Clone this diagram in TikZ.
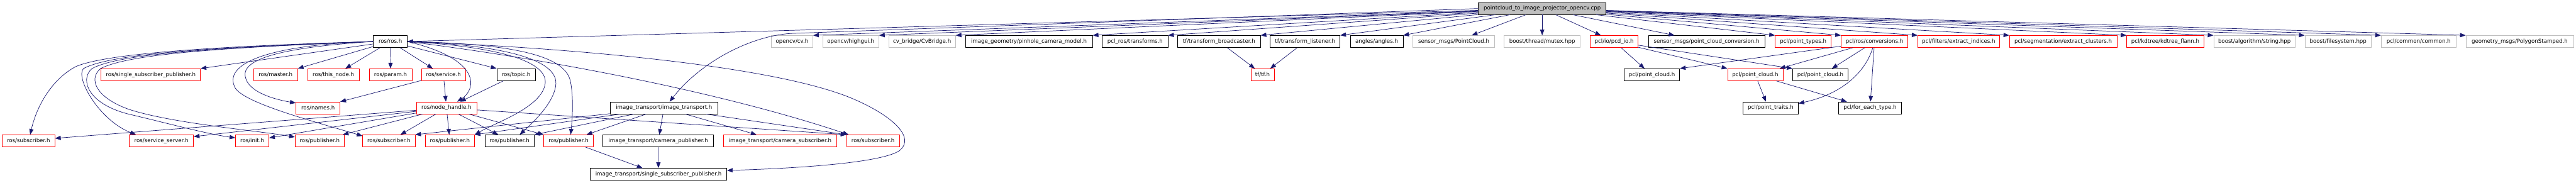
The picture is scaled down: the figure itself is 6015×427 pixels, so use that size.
\documentclass[tikz,border=0pt]{standalone}
\usepackage{fontspec}
\setmainfont{DejaVu Sans}
\usetikzlibrary{arrows.meta,calc}
\definecolor{edgeblue}{HTML}{191970}
\definecolor{lgray}{HTML}{BFBFBF}
\begin{document}
\begin{tikzpicture}[x=0.75pt,y=-0.75pt,
 box/.style={rectangle,draw,line width=0.75pt,fill=white,inner sep=0pt,minimum height=21pt,font=\fontsize{9.5}{11}\selectfont,text=black},
 blackbox/.style={box,draw=black},
 redbox/.style={box,draw=red},
 graybox/.style={box,draw=lgray},
 rootbox/.style={box,draw=black,fill=lgray},
 edge/.style={draw=edgeblue,line width=0.8pt,-{Triangle[length=10pt,width=7.5pt]}}]
\useasboundingbox (0,0) rectangle (6015,427);
% root
\node[rootbox,minimum width=223.5pt] (root) at (3601,20) {pointcloud\_to\_image\_projector\_opencv.cpp};
% row 1
\node[blackbox,minimum width=59.25pt] (ros) at (911.5,97) {ros/ros.h};
\node[graybox,minimum width=72.75pt] (cv) at (1849.5,97) {opencv/cv.h};
\node[graybox,minimum width=98.25pt] (highgui) at (1986.5,97) {opencv/highgui.h};
\node[graybox,minimum width=117pt] (cvbridge) at (2153,97) {cv\_bridge/CvBridge.h};
\node[blackbox,minimum width=222.75pt] (pinhole) at (2402.5,97) {image\_geometry/pinhole\_camera\_model.h};
\node[blackbox,minimum width=114.75pt] (pclros) at (2650.5,97) {pcl\_ros/transforms.h};
\node[blackbox,minimum width=144.75pt] (tfb) at (2846.5,97) {tf/transform\_broadcaster.h};
\node[blackbox,minimum width=122.25pt] (tfl) at (3047.5,97) {tf/transform\_listener.h};
\node[blackbox,minimum width=92.25pt] (angles) at (3214.5,97) {angles/angles.h};
\node[graybox,minimum width=143.25pt] (spc) at (3394.5,97) {sensor\_msgs/PointCloud.h};
\node[graybox,minimum width=133.5pt] (mutex) at (3601,97) {boost/thread/mutex.hpp};
\node[redbox,minimum width=84pt] (pcdio) at (3769,97) {pcl/io/pcd\_io.h};
\node[blackbox,minimum width=204pt] (ptconv) at (3985,97) {sensor\_msgs/point\_cloud\_conversion.h};
\node[redbox,minimum width=98.25pt] (ptypes) at (4210.5,97) {pcl/point\_types.h};
\node[redbox,minimum width=117pt] (conv) at (4377,97) {pcl/ros/conversions.h};
\node[redbox,minimum width=143.25pt] (extidx) at (4573.5,97) {pcl/filters/extract\_indices.h};
\node[redbox,minimum width=188.25pt] (extcl) at (4817.5,97) {pcl/segmentation/extract\_clusters.h};
\node[redbox,minimum width=135pt] (kdtree) at (5056,97) {pcl/kdtree/kdtree\_flann.h};
\node[graybox,minimum width=142.5pt] (bstr) at (5264,97) {boost/algorithm/string.hpp};
\node[graybox,minimum width=116.25pt] (bfs) at (5459.5,97) {boost/filesystem.hpp};
\node[graybox,minimum width=131.25pt] (pcommon) at (5647.5,97) {pcl/common/common.h};
\node[graybox,minimum width=188.25pt] (geom) at (5883.5,97) {geometry\_msgs/PolygonStamped.h};
% row 2
\node[redbox,minimum width=174pt] (ssp) at (352,174.5) {ros/single\_subscriber\_publisher.h};
\node[redbox,minimum width=77.25pt] (master) at (643.5,174.5) {ros/master.h};
\node[redbox,minimum width=90.75pt] (thisnode) at (778.5,174.5) {ros/this\_node.h};
\node[redbox,minimum width=75pt] (param) at (912,174.5) {ros/param.h};
\node[redbox,minimum width=77.25pt] (service) at (1035.5,174.5) {ros/service.h};
\node[blackbox,minimum width=67.5pt] (topic) at (1205,174.5) {ros/topic.h};
\node[redbox,minimum width=40.5pt] (tf) at (2948,174.5) {tf/tf.h};
\node[blackbox,minimum width=97.5pt] (pc1) at (3857,174.5) {pcl/point\_cloud.h};
\node[redbox,minimum width=96.75pt] (pc2) at (4098.5,174.5) {pcl/point\_cloud.h};
\node[blackbox,minimum width=96.75pt] (pc3) at (4250.5,174.5) {pcl/point\_cloud.h};
% row 3
\node[redbox,minimum width=77.25pt] (names) at (742.5,252) {ros/names.h};
\node[redbox,minimum width=105.75pt] (nh) at (1042.5,252) {ros/node\_handle.h};
\node[blackbox,minimum width=188.25pt] (itr) at (1550.5,252) {image\_transport/image\_transport.h};
\node[blackbox,minimum width=96.75pt] (traits) at (4134.5,252) {pcl/point\_traits.h};
\node[blackbox,minimum width=110.25pt] (foreach) at (4366.5,252) {pcl/for\_each\_type.h};
% row 4
\node[redbox,minimum width=92.25pt] (sub1) at (66.5,329) {ros/subscriber.h};
\node[redbox,minimum width=112.5pt] (ss) at (377,329) {ros/service\_server.h};
\node[redbox,minimum width=58.5pt] (init) at (589,329) {ros/init.h};
\node[redbox,minimum width=86.25pt] (pub1) at (746.5,329) {ros/publisher.h};
\node[redbox,minimum width=91.5pt] (sub2) at (908,329) {ros/subscriber.h};
\node[redbox,minimum width=86.25pt] (pub2) at (1050.5,329) {ros/publisher.h};
\node[blackbox,minimum width=86.25pt] (pub3) at (1189.5,329) {ros/publisher.h};
\node[redbox,minimum width=86.25pt] (pub4) at (1327.5,329) {ros/publisher.h};
\node[blackbox,minimum width=193.5pt] (cp) at (1537,329) {image\_transport/camera\_publisher.h};
\node[redbox,minimum width=198.75pt] (cs) at (1821.5,329) {image\_transport/camera\_subscriber.h};
\node[redbox,minimum width=92.25pt] (sub3) at (2038.5,329) {ros/subscriber.h};
% row 5
\node[blackbox,minimum width=239.25pt] (issp) at (1537.5,407) {image\_transport/single\_subscriber\_publisher.h};

% ---- edges from root
\draw[edge] (root) -- (ros.east);
\draw[edge] (root.west) -- (1850,78) .. controls (1760,82) and (1640,140) .. ($(itr.north)+(13,0)$);
\draw[edge] (root) -- (cv.north east);
\draw[edge] (root) -- (highgui.north east);
\draw[edge] (root) -- (cvbridge.north east);
\draw[edge] (root) -- (pinhole.north east);
\draw[edge] (root) -- (pclros.north east);
\draw[edge] (root) -- (tfb.north east);
\draw[edge] (root) -- (tfl.north east);
\draw[edge] (root) -- (angles.north east);
\draw[edge] (root) -- ($(spc.north)+(42,0)$);
\draw[edge] (root) -- (mutex);
\draw[edge] (root) -- ($(pcdio.north)+(-31,0)$);
\draw[edge] (root) -- ($(ptconv.north)+(-75,0)$);
\draw[edge] (root) -- (ptypes.north west);
\draw[edge] (root) -- (conv.north west);
\draw[edge] (root) -- (extidx.north west);
\draw[edge] (root) -- (extcl.north west);
\draw[edge] (root) -- (kdtree.north west);
\draw[edge] (root) -- (bstr.north west);
\draw[edge] (root) -- (bfs.north west);
\draw[edge] (root) -- (pcommon.north west);
\draw[edge] (root) -- (geom.north west);

% ---- edges from ros/ros.h
\draw[edge] (ros) -- (master.north east);
\draw[edge] (ros) -- ($(thisnode.north)+(28,0)$);
\draw[edge] (ros) -- (param);
\draw[edge] (ros) -- ($(service.north)+(-25,0)$);
\draw[edge] (ros) -- (topic.north west);
\draw[edge] (ros) -- (ssp.north east);
\draw[edge] (ros.east) .. controls (1130,140) and (1110,210) .. ($(nh.north)+(25,0)$);
\draw[edge] (ros.west) .. controls (700,108) and (560,130) .. (573,180) .. controls (580,215) and (640,232) .. ($(names.north west)+(0,3)$);
\draw[edge] (ros.west) .. controls (620,105) and (520,150) .. (549,205) .. controls (570,240) and (720,280) .. ($(sub2.north west)+(0,3)$);
\draw[edge] (ros.west) .. controls (500,108) and (250,125) .. (178,155) .. controls (120,185) and (85,250) .. ($(sub1.north)+(4,0)$);
\draw[edge] (ros.west) .. controls (500,110) and (260,125) .. (195,160) .. controls (175,180) and (230,280) .. ($(ss.north west)+(16,0)$);
\draw[edge] (ros.west) .. controls (500,112) and (280,125) .. (215,160) .. controls (185,185) and (205,245) .. (307,268) .. controls (400,290) and (480,312) .. ($(init.west)+(0,-7)$);
\draw[edge] (ros.west) .. controls (500,112) and (300,127) .. (235,160) .. controls (205,185) and (225,228) .. (300,255) .. controls (400,288) and (600,305) .. ($(pub1.west)+(0,-9)$);
\draw[edge] (ros.east) .. controls (1150,108) and (1280,140) .. (1273,195) .. controls (1266,250) and (1160,285) .. (pub2.north east);
\draw[edge] (ros.east) .. controls (1180,105) and (1300,140) .. (1298,195) .. controls (1296,240) and (1240,290) .. ($(pub3.north)+(24,0)$);
\draw[edge] (ros.east) .. controls (1200,102) and (1320,130) .. (1332,190) .. controls (1340,230) and (1336,280) .. ($(pub4.north)+(5,0)$);
\draw[edge] (ros.east) .. controls (1300,140) and (1700,220) .. ($(sub3.north west)+(5,0)$);
\draw[edge] (ros.east) .. controls (1300,110) and (1800,150) .. (1990,230) .. controls (2080,268) and (2140,320) .. (2100,352) .. controls (2050,385) and (1800,395) .. ($(issp.east)+(0,-9)$);

% ---- service, topic
\draw[edge] (service) -- (nh);
\draw[edge] (service) -- (names.north east);
\draw[edge] (topic) -- ($(nh.north)+(32,0)$);

% ---- node_handle
\draw[edge] (nh) -- ($(sub1.east)+(0,-6)$);
\draw[edge] (nh) -- ($(ss.east)+(0,-10)$);
\draw[edge] (nh) -- ($(init.east)+(0,-7)$);
\draw[edge] (nh) -- ($(pub1.north east)+(-4,0)$);
\draw[edge] (nh) -- ($(sub2.north)+(27,0)$);
\draw[edge] (nh) -- (pub2);
\draw[edge] (nh) -- ($(pub3.north)+(-26,0)$);
\draw[edge] (nh) -- (pub4.north west);
\draw[edge] (nh) -- (sub3.north west);

% ---- image_transport
\draw[edge] (itr) -- (sub2.north east);
\draw[edge] (itr) -- (pub2.north east);
\draw[edge] (itr) -- (pub3.north east);
\draw[edge] (itr) -- ($(pub4.north)+(42,0)$);
\draw[edge] (itr) -- (cp);
\draw[edge] (itr) -- ($(cs.north)+(-55,0)$);
\draw[edge] (itr) -- (sub3.north west);
\draw[edge] (pub4) -- ($(issp.north)+(-37,0)$);
\draw[edge] (cp) -- (issp);

% ---- tf
\draw[edge] (tfb) -- ($(tf.north)+(-18,0)$);
\draw[edge] (tfl) -- ($(tf.north)+(18,0)$);

% ---- pcl
\draw[edge] (pcdio) -- ($(pc1.north)+(-17,0)$);
\draw[edge] (pcdio) -- (pc2.north west);
\draw[edge] (pcdio) -- (pc3.north west);
\draw[edge] (conv) -- (pc1.north east);
\draw[edge] (conv) -- ($(pc2.north east)+(-8,0)$);
\draw[edge] (conv) -- ($(pc3.north)+(27,0)$);
\draw[edge] ($(conv.south)+(-4,0)$) .. controls (4355,170) and (4300,220) .. ($(traits.north east)+(0,4)$);
\draw[edge] (conv) -- (foreach);
\draw[edge] (pc2) -- ($(traits.north)+(-11,0)$);
\draw[edge] (pc2) -- ($(foreach.north west)+(20,0)$);
\end{tikzpicture}
\end{document}
